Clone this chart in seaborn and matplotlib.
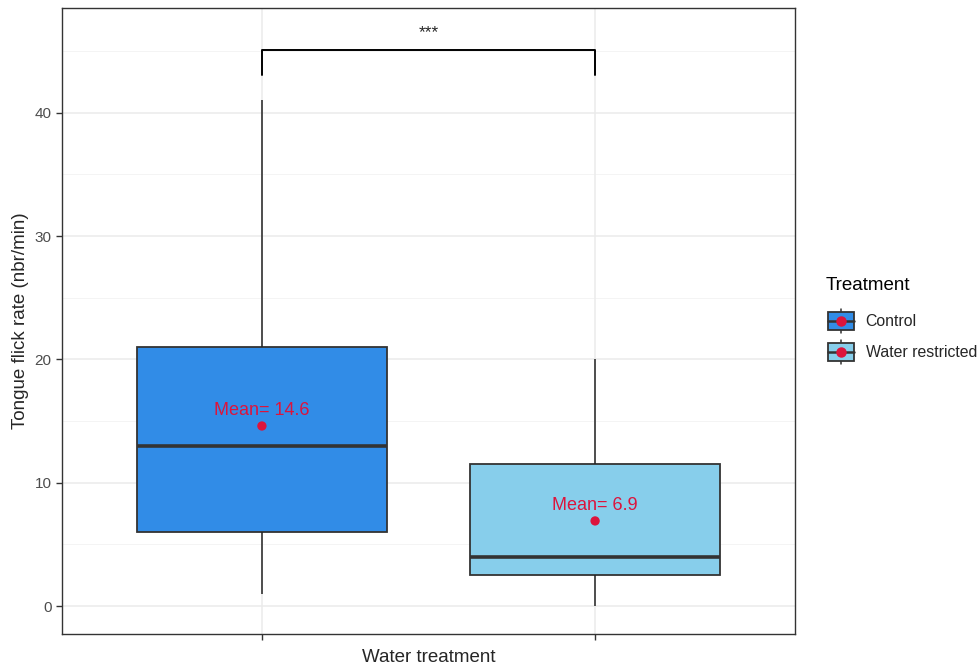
import matplotlib
matplotlib.use("Agg")
import matplotlib.pyplot as plt
from matplotlib.legend_handler import HandlerBase
from matplotlib.patches import Rectangle
from matplotlib.lines import Line2D
import seaborn as sns
import pandas as pd

# values (sorted, quartiles / whiskers / mean match the boxes)
treatments = ["Control", "Water restricted"]
control_rates = [1, 3, 6, 9, 13, 15, 21, 22.4, 41]
restricted_rates = [0, 1, 2.5, 3, 4, 7, 11.5, 13.1, 20]
box_colors = ["#318CE7", "#87CEEB"]
mean_color = "#DC143C"
signif_label = "***"
bracket_y = 45.1
bracket_drop = 43.1

df = pd.DataFrame({
    "Treatment": [treatments[0]] * len(control_rates) + [treatments[1]] * len(restricted_rates),
    "rate": control_rates + restricted_rates,
})
means = df.groupby("Treatment", sort=False)["rate"].mean()

sns.set_style("ticks")
plt.rcParams["font.family"] = ["Liberation Sans", "DejaVu Sans"]

fig = plt.figure(figsize=(9.8, 6.66), dpi=100)
ax = fig.add_axes([62 / 980, 32 / 666, 733 / 980, 626 / 666])

# grid like theme_bw
for v in range(0, 50, 10):
    ax.axhline(v, color="#EBEBEB", lw=1.1, zorder=0)
for v in range(5, 50, 10):
    ax.axhline(v, color="#F2F2F2", lw=0.6, zorder=0)
for i in range(2):
    ax.axvline(i, color="#EBEBEB", lw=1.1, zorder=0)

sns.boxplot(data=df, x="Treatment", y="rate", hue="Treatment", order=treatments,
            palette=dict(zip(treatments, box_colors)), saturation=1, width=0.75,
            whis=1.5, linecolor="#333333", linewidth=1.3, showcaps=False, dodge=False,
            medianprops={"linewidth": 2.6, "color": "#333333"},
            whiskerprops={"linewidth": 1.1, "color": "#222222"},
            legend=False, ax=ax, zorder=2)

mean_df = means.reset_index()
sns.scatterplot(data=mean_df, x="Treatment", y="rate", color=mean_color, s=45,
                edgecolor="none", zorder=5, ax=ax, legend=False)
for i, t in enumerate(treatments):
    ax.text(i, means[t] + 1.25, f"Mean= {means[t]:.1f}", color=mean_color,
            ha="center", va="center", fontsize=13, zorder=6)

# significance bracket
ax.plot([0, 0, 1, 1], [bracket_drop, bracket_y, bracket_y, bracket_drop],
        color="black", lw=1.4, zorder=6)
ax.text(0.5, bracket_y + 0.8, signif_label, ha="center", va="bottom", fontsize=12.5)

ax.set_xlim(-0.6, 1.6)
ax.set_ylim(-2.27, 48.5)
ax.set_yticks([0, 10, 20, 30, 40])
ax.set_xticks([0, 1])
ax.set_xticklabels([])
ax.set_xlabel("Water treatment", fontsize=13.5, labelpad=3)
ax.set_ylabel("Tongue flick rate (nbr/min)", fontsize=13.5, labelpad=4)
ax.tick_params(axis="y", labelsize=11, labelcolor="#4D4D4D", color="#333333",
               length=4, width=1)
ax.tick_params(axis="x", color="#333333", length=4, width=1)
for s in ax.spines.values():
    s.set_visible(True)
    s.set_color("#333333")
    s.set_linewidth(1.0)


class BoxKeyHandler(HandlerBase):
    def __init__(self, fill):
        super().__init__()
        self.fill = fill

    def create_artists(self, legend, orig_handle, xdescent, ydescent, width,
                       height, fontsize, trans):
        cx = width / 2 - xdescent
        cy = height / 2 - ydescent
        w = width * 0.86
        h = height * 0.78
        top = cy + height * 0.53
        bot = cy - height * 0.53
        wl = Line2D([cx, cx], [bot, top], color="#333333", lw=1.1, transform=trans)
        r = Rectangle((cx - w / 2, cy - h / 2), w, h, facecolor=self.fill,
                      edgecolor="#333333", lw=1.3, transform=trans)
        ml = Line2D([cx - w / 2, cx + w / 2], [cy, cy], color="#333333", lw=1.8,
                    transform=trans)
        dot = Line2D([cx], [cy], marker="o", ms=6.5, color=mean_color, lw=0,
                     transform=trans)
        return [wl, r, ml, dot]


fig.text(826 / 980, 1 - 286 / 666, "Treatment", fontsize=13.5, ha="left",
         va="center", color="black")
handles = [Rectangle((0, 0), 1, 1) for _ in treatments]
leg = fig.legend(handles, treatments,
                 handler_map={h: BoxKeyHandler(c) for h, c in zip(handles, box_colors)},
                 loc="center left", bbox_to_anchor=(826 / 980, 1 - 336.5 / 666),
                 frameon=False, fontsize=11.4,
                 handlelength=1.9, handleheight=1.9, labelspacing=0.48,
                 handletextpad=0.6, borderaxespad=0, borderpad=0)

fig.savefig("out.png", dpi=100)
